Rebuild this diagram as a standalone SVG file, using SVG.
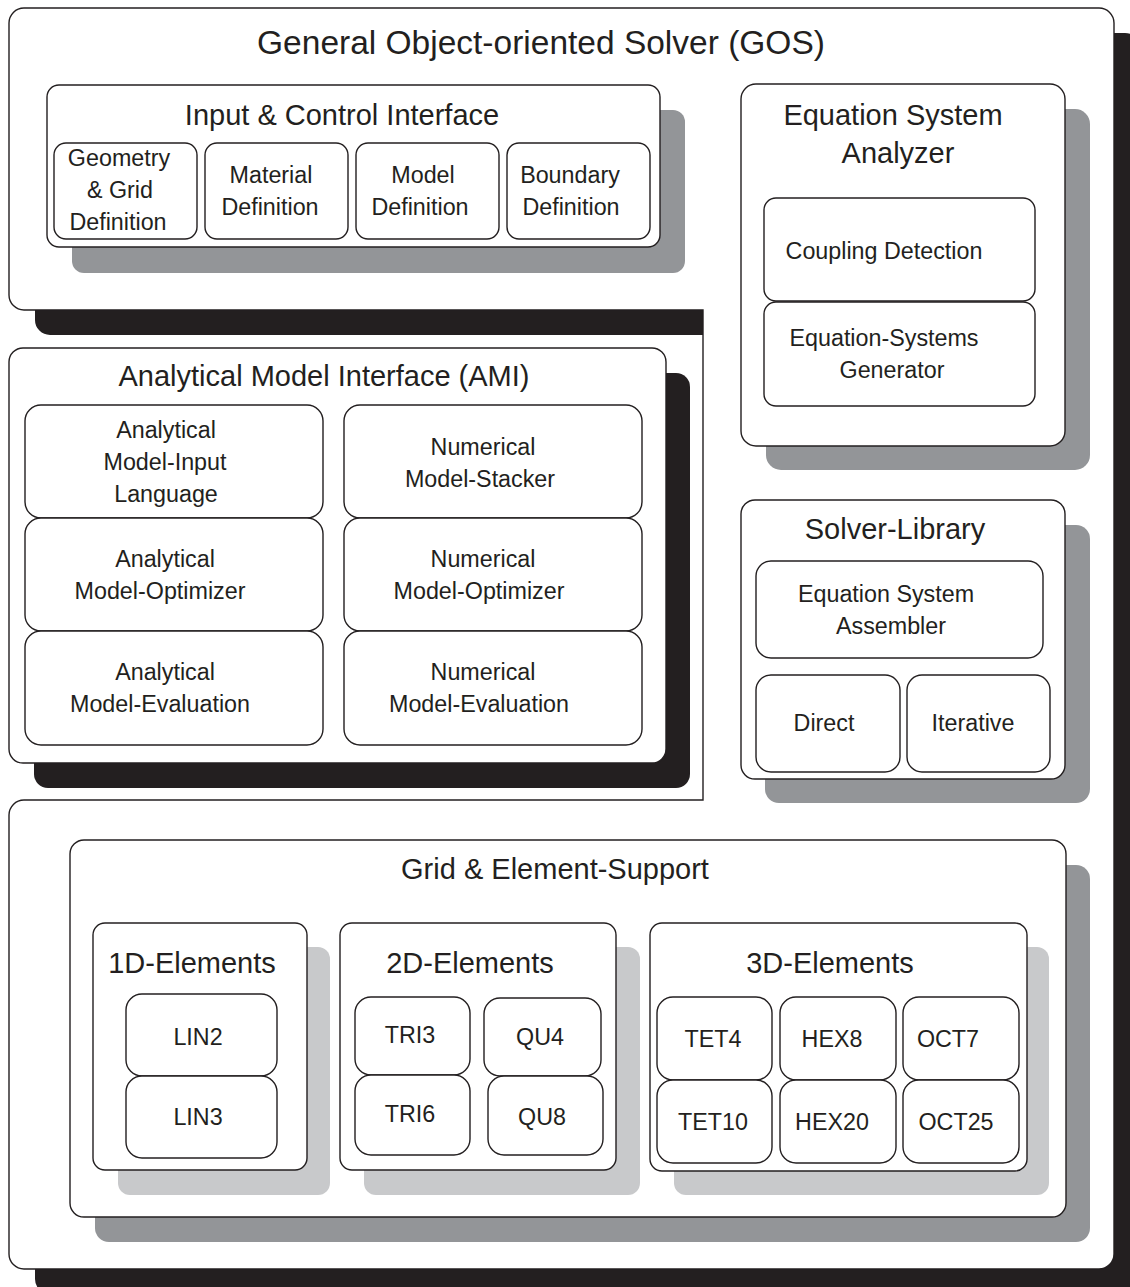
<svg xmlns="http://www.w3.org/2000/svg" width="1130" height="1287" viewBox="0 0 1130 1287">
  <style>
    .box { fill: #ffffff; stroke: #231f20; stroke-width: 1.4; }
    .sh-black { fill: #231f20; }
    .sh-dark { fill: #939598; }
    .sh-light { fill: #c8c9cb; }
    text { font-family: "Liberation Sans", Arial, Helvetica, sans-serif; fill: #231f20; text-anchor: middle; }
    .t1 { font-size: 33.5px; }
    .t2 { font-size: 29px; }
    .t3 { font-size: 23.3px; }
  </style>
  <defs>
    <path id="gos-outline" d="M24,8 H1099 A15,15 0 0 1 1114,23 V1254 A15,15 0 0 1 1099,1269 H24 A15,15 0 0 1 9,1254 V815 A15,15 0 0 1 24,800 H703 V310 H24 A15,15 0 0 1 9,295 V23 A15,15 0 0 1 24,8 Z"/>
  </defs>

  <rect width="1130" height="1287" fill="#ffffff"/>

  <!-- General Object-oriented Solver: outer frame with notch for the AMI block -->
  <g id="gos">
    <use href="#gos-outline" class="sh-black" transform="translate(26,25)"/>
    <use href="#gos-outline" class="box"/>
    <text class="t1" x="541" y="54">General Object-oriented Solver (GOS)</text>
  </g>

  <!-- Input & Control Interface -->
  <g id="input-control">
    <rect class="sh-dark" x="72" y="110" width="613" height="163" rx="12"/>
    <rect class="box" x="47" y="85" width="613" height="162" rx="12"/>
    <text class="t2" x="342" y="125">Input &amp; Control Interface</text>
    <g id="geometry-grid">
      <rect class="box" x="54" y="143" width="143" height="96" rx="12"/>
      <text class="t3" x="119" y="166">Geometry</text>
      <text class="t3" x="120" y="198">&amp; Grid</text>
      <text class="t3" x="118" y="230">Definition</text>
    </g>
    <g id="material-def">
      <rect class="box" x="205" y="143" width="143" height="96" rx="12"/>
      <text class="t3" x="271" y="183">Material</text>
      <text class="t3" x="270" y="215">Definition</text>
    </g>
    <g id="model-def">
      <rect class="box" x="356" y="143" width="143" height="96" rx="12"/>
      <text class="t3" x="423" y="183">Model</text>
      <text class="t3" x="420" y="215">Definition</text>
    </g>
    <g id="boundary-def">
      <rect class="box" x="507" y="143" width="143" height="96" rx="12"/>
      <text class="t3" x="570" y="183">Boundary</text>
      <text class="t3" x="571" y="215">Definition</text>
    </g>
  </g>

  <!-- Equation System Analyzer -->
  <g id="eq-analyzer">
    <rect class="sh-dark" x="766" y="109" width="324" height="361" rx="15"/>
    <rect class="box" x="741" y="84" width="324" height="362" rx="15"/>
    <text class="t2" x="893" y="125">Equation System</text>
    <text class="t2" x="898" y="163">Analyzer</text>
    <g id="coupling-detection">
      <rect class="box" x="764" y="198" width="271" height="103" rx="12"/>
      <text class="t3" x="884" y="259">Coupling Detection</text>
    </g>
    <g id="eq-generator">
      <rect class="box" x="764" y="302" width="271" height="104" rx="12"/>
      <text class="t3" x="884" y="346">Equation-Systems</text>
      <text class="t3" x="892" y="378">Generator</text>
    </g>
  </g>

  <!-- Analytical Model Interface -->
  <g id="ami">
    <rect class="sh-black" x="34" y="373" width="656" height="415" rx="14"/>
    <rect class="box" x="9" y="348" width="657" height="415" rx="14"/>
    <text class="t2" x="324" y="386">Analytical Model Interface (AMI)</text>
    <g id="am-input-language">
      <rect class="box" x="25" y="405" width="298" height="113" rx="16"/>
      <text class="t3" x="166" y="438">Analytical</text>
      <text class="t3" x="165" y="470">Model-Input</text>
      <text class="t3" x="166" y="502">Language</text>
    </g>
    <g id="am-optimizer">
      <rect class="box" x="25" y="518" width="298" height="113" rx="16"/>
      <text class="t3" x="165" y="567">Analytical</text>
      <text class="t3" x="160" y="599">Model-Optimizer</text>
    </g>
    <g id="am-evaluation">
      <rect class="box" x="25" y="631" width="298" height="114" rx="16"/>
      <text class="t3" x="165" y="680">Analytical</text>
      <text class="t3" x="160" y="712">Model-Evaluation</text>
    </g>
    <g id="nm-stacker">
      <rect class="box" x="344" y="405" width="298" height="113" rx="16"/>
      <text class="t3" x="483" y="455">Numerical</text>
      <text class="t3" x="480" y="487">Model-Stacker</text>
    </g>
    <g id="nm-optimizer">
      <rect class="box" x="344" y="518" width="298" height="113" rx="16"/>
      <text class="t3" x="483" y="567">Numerical</text>
      <text class="t3" x="479" y="599">Model-Optimizer</text>
    </g>
    <g id="nm-evaluation">
      <rect class="box" x="344" y="631" width="298" height="114" rx="16"/>
      <text class="t3" x="483" y="680">Numerical</text>
      <text class="t3" x="479" y="712">Model-Evaluation</text>
    </g>
  </g>

  <!-- Solver-Library -->
  <g id="solver-library">
    <rect class="sh-dark" x="765" y="525" width="325" height="278" rx="14"/>
    <rect class="box" x="741" y="500" width="324" height="279" rx="14"/>
    <text class="t2" x="895" y="539">Solver-Library</text>
    <g id="eq-assembler">
      <rect class="box" x="756" y="561" width="287" height="97" rx="15"/>
      <text class="t3" x="886" y="602">Equation System</text>
      <text class="t3" x="891" y="634">Assembler</text>
    </g>
    <g id="direct">
      <rect class="box" x="756" y="675" width="144" height="97" rx="15"/>
      <text class="t3" x="824" y="731">Direct</text>
    </g>
    <g id="iterative">
      <rect class="box" x="907" y="675" width="143" height="97" rx="15"/>
      <text class="t3" x="973" y="731">Iterative</text>
    </g>
  </g>

  <!-- Grid & Element-Support -->
  <g id="grid-element-support">
    <rect class="sh-dark" x="95" y="865" width="995" height="377" rx="14"/>
    <rect class="box" x="70" y="840" width="996" height="377" rx="14"/>
    <text class="t2" x="555" y="879">Grid &amp; Element-Support</text>

    <g id="elements-1d">
      <rect class="sh-light" x="118" y="947" width="212" height="248" rx="12"/>
      <rect class="box" x="93" y="923" width="214" height="247" rx="12"/>
      <text class="t2" x="192" y="973">1D-Elements</text>
      <g id="lin2">
        <rect class="box" x="126" y="994" width="151" height="82" rx="16"/>
        <text class="t3" x="198" y="1045">LIN2</text>
      </g>
      <g id="lin3">
        <rect class="box" x="126" y="1076" width="151" height="82" rx="16"/>
        <text class="t3" x="198" y="1125">LIN3</text>
      </g>
    </g>

    <g id="elements-2d">
      <rect class="sh-light" x="364" y="947" width="276" height="248" rx="12"/>
      <rect class="box" x="340" y="923" width="276" height="247" rx="12"/>
      <text class="t2" x="470" y="973">2D-Elements</text>
      <g id="tri3">
        <rect class="box" x="355" y="997" width="115" height="78" rx="16"/>
        <text class="t3" x="410" y="1043">TRI3</text>
      </g>
      <g id="qu4">
        <rect class="box" x="484" y="998" width="117" height="78" rx="16"/>
        <text class="t3" x="540" y="1045">QU4</text>
      </g>
      <g id="tri6">
        <rect class="box" x="355" y="1075" width="115" height="80" rx="16"/>
        <text class="t3" x="410" y="1122">TRI6</text>
      </g>
      <g id="qu8">
        <rect class="box" x="488" y="1076" width="115" height="79" rx="16"/>
        <text class="t3" x="542" y="1125">QU8</text>
      </g>
    </g>

    <g id="elements-3d">
      <rect class="sh-light" x="674" y="947" width="375" height="248" rx="12"/>
      <rect class="box" x="650" y="923" width="377" height="248" rx="12"/>
      <text class="t2" x="830" y="973">3D-Elements</text>
      <g id="tet4">
        <rect class="box" x="657" y="997" width="115" height="83" rx="16"/>
        <text class="t3" x="713" y="1047">TET4</text>
      </g>
      <g id="hex8">
        <rect class="box" x="780" y="997" width="116" height="83" rx="16"/>
        <text class="t3" x="832" y="1047">HEX8</text>
      </g>
      <g id="oct7">
        <rect class="box" x="903" y="997" width="116" height="83" rx="16"/>
        <text class="t3" x="948" y="1047">OCT7</text>
      </g>
      <g id="tet10">
        <rect class="box" x="657" y="1080" width="115" height="83" rx="16"/>
        <text class="t3" x="713" y="1130">TET10</text>
      </g>
      <g id="hex20">
        <rect class="box" x="780" y="1080" width="116" height="83" rx="16"/>
        <text class="t3" x="832" y="1130">HEX20</text>
      </g>
      <g id="oct25">
        <rect class="box" x="903" y="1080" width="116" height="83" rx="16"/>
        <text class="t3" x="956" y="1130">OCT25</text>
      </g>
    </g>
  </g>

  <!-- no connectors in this layout -->
  <g id="connectors"/>
</svg>
